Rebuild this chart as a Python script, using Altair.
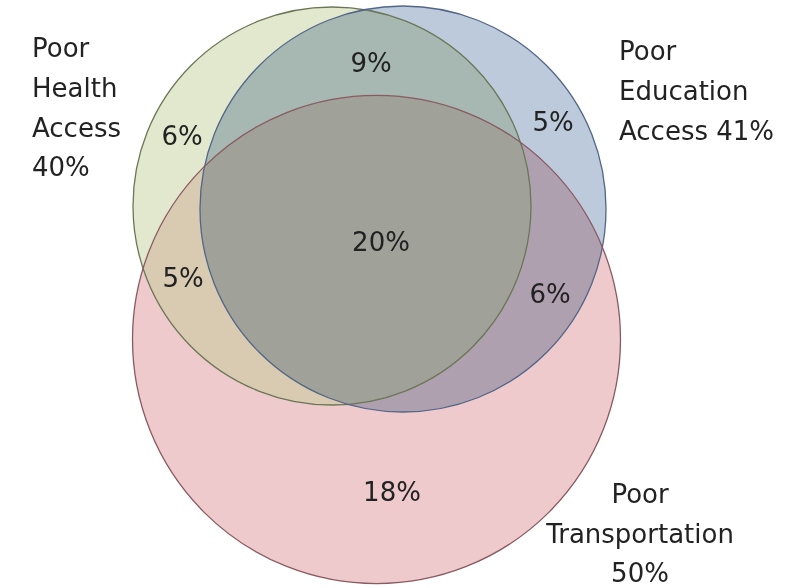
import altair as alt
import pandas as pd

# ---- data ----
circle_names = ["Poor Health Access", "Poor Education Access", "Poor Transportation"]
circle_pcts = [40, 41, 50]
region_names = ["Health only", "Health & Education", "Education only", "All three",
                "Health & Transportation", "Education & Transportation", "Transportation only"]
region_pcts = [6, 9, 5, 20, 5, 6, 18]

# ---- layout (diagram geometry, in pixel-like units of the canvas) ----
W, H = 794, 588
circle_cx = [332, 403, 376.5]
circle_cy = [206, 209, 339.5]
circle_r = [199, 203, 244]
circle_stroke = ["#6A7656", "#526688", "#8A5A62"]

region_x = [182, 371, 553, 381, 183, 550, 392]
region_y = [145, 72, 131, 251, 287, 303, 501]

FONT = "DejaVu Sans"
FS = 26
TXT = "#222222"

circles = pd.DataFrame({
    "name": circle_names,
    "cx": circle_cx,
    "cy": circle_cy,
    "size": [4 * r * r for r in circle_r],
})

regions = pd.DataFrame({
    "region": region_names,
    "label": [f"{v}%" for v in region_pcts],
    "x": region_x,
    "y": region_y,
})

lines_left = [
    ("Poor", 32, 57), ("Health", 32, 97), ("Access", 32, 137), (f"{circle_pcts[0]}%", 32, 176),
    ("Poor", 619, 60), ("Education", 619, 100), (f"Access {circle_pcts[1]}%", 619, 140),
]
lines_center = [
    ("Poor", 640, 503), ("Transportation", 640, 543), (f"{circle_pcts[2]}%", 640, 582),
]
left_df = pd.DataFrame(lines_left, columns=["text", "x", "y"])
center_df = pd.DataFrame(lines_center, columns=["text", "x", "y"])

xs = alt.Scale(domain=[0, W], nice=False, zero=False)
ys = alt.Scale(domain=[0, H], nice=False, zero=False, reverse=True)

base = alt.Chart(circles).encode(
    x=alt.X("cx:Q", scale=xs, axis=None),
    y=alt.Y("cy:Q", scale=ys, axis=None),
    size=alt.Size("size:Q", scale=None, legend=None),
)

# red at the bottom, green translucent over it, blue multiplied on top
red_fill = base.transform_filter(alt.datum.name == circle_names[2]).mark_point(
    shape="circle", filled=True, opacity=1, fill="#EECACC", strokeWidth=0
)
green_fill = base.transform_filter(alt.datum.name == circle_names[0]).mark_point(
    shape="circle", filled=True, opacity=0.45, fill="#BECC90", strokeWidth=0
)
blue_fill = base.transform_filter(alt.datum.name == circle_names[1]).mark_point(
    shape="circle", filled=True, opacity=1, fill="#BCCADC", strokeWidth=0, blend="multiply"
)
outlines = base.mark_point(
    shape="circle", filled=False, opacity=1, strokeWidth=1.3
).encode(
    stroke=alt.Stroke("name:N", scale=alt.Scale(domain=circle_names, range=circle_stroke), legend=None),
)

reg_text = alt.Chart(regions).mark_text(
    font=FONT, fontSize=FS, align="center", baseline="alphabetic", color=TXT
).encode(
    x=alt.X("x:Q", scale=xs, axis=None),
    y=alt.Y("y:Q", scale=ys, axis=None),
    text="label:N",
)

left_text = alt.Chart(left_df).mark_text(
    font=FONT, fontSize=FS, align="left", baseline="alphabetic", color=TXT
).encode(
    x=alt.X("x:Q", scale=xs, axis=None),
    y=alt.Y("y:Q", scale=ys, axis=None),
    text="text:N",
)

center_text = alt.Chart(center_df).mark_text(
    font=FONT, fontSize=FS, align="center", baseline="alphabetic", color=TXT
).encode(
    x=alt.X("x:Q", scale=xs, axis=None),
    y=alt.Y("y:Q", scale=ys, axis=None),
    text="text:N",
)

chart = alt.layer(red_fill, green_fill, blue_fill, outlines, reg_text, left_text, center_text).properties(
    width=W, height=H, autosize=alt.AutoSizeParams(type="none"), padding=0,
    background="white",
).configure_view(stroke=None)

chart.save("out.html", embed_options={"renderer": "svg", "actions": False})
